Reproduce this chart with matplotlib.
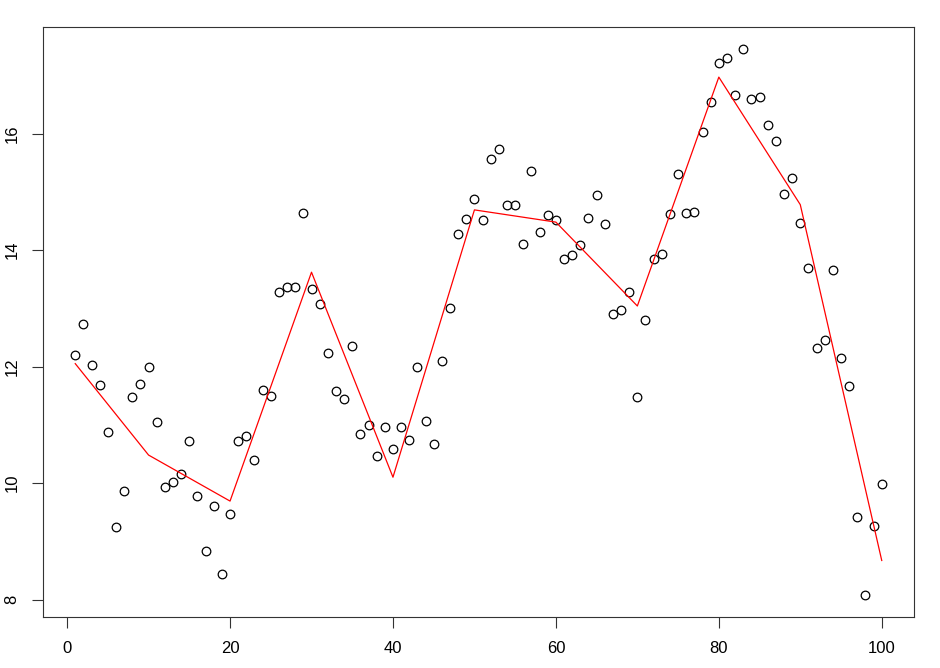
#Scatter with piecewise linear fit (R base graphics look)

import matplotlib
matplotlib.use('Agg')
import matplotlib.pyplot as plt
import numpy as np

#Data
x = np.arange(1, 101)
y = [12.20, 12.73, 12.03, 11.69, 10.88, 9.25, 9.87, 11.47, 11.70, 11.99,
     11.05, 9.94, 10.01, 10.16, 10.73, 9.77, 8.84, 9.60, 8.44, 9.47,
     10.72, 10.81, 10.40, 11.59, 11.49, 13.28, 13.36, 13.37, 14.63, 13.33,
     13.07, 12.23, 11.58, 11.44, 12.36, 10.84, 11.00, 10.47, 10.96, 10.58,
     10.97, 10.74, 12.00, 11.07, 10.67, 12.10, 13.00, 14.27, 14.54, 14.87,
     14.51, 15.56, 15.74, 14.77, 14.77, 14.10, 15.35, 14.31, 14.60, 14.51,
     13.85, 13.92, 14.08, 14.55, 14.94, 14.45, 12.90, 12.97, 13.28, 11.48,
     12.80, 13.85, 13.93, 14.62, 15.30, 14.63, 14.66, 16.02, 16.54, 17.21,
     17.29, 16.67, 17.46, 16.59, 16.62, 16.15, 15.87, 14.97, 15.23, 14.46,
     13.69, 12.31, 12.45, 13.66, 12.15, 11.67, 9.41, 8.07, 9.27, 9.98]

#Fitted line knots
knot_x = [1, 10, 20, 30, 40, 50, 60, 70, 80, 90, 100]
knot_y = [12.05, 10.48, 9.69, 13.62, 10.10, 14.69, 14.48, 13.04, 16.97, 14.78, 8.67]

xticks = [0, 20, 40, 60, 80, 100]
yticks = [8, 10, 12, 14, 16]

plt.rcParams['font.family'] = ['Liberation Sans', 'DejaVu Sans']

fig = plt.figure(figsize=(9.4, 6.68), dpi=100)
ax = fig.add_axes([43/940., 1-617.3/668., (914-43)/940., (617.3-26.7)/668.])

# R style: 4% padding on both axes
xr = x.max() - x.min()
ax.set_xlim(x.min() - 0.04*xr, x.max() + 0.04*xr)
yr = max(y) - min(y)
ax.set_ylim(min(y) - 0.04*yr, max(y) + 0.04*yr)

ax.plot(x, y, linestyle='none', marker='o', markersize=6.2,
        markerfacecolor='none', markeredgecolor='black', markeredgewidth=0.9)
ax.plot(knot_x, knot_y, color='red', lw=0.9)

for s in ax.spines.values():
    s.set_color('#333333')
    s.set_linewidth(0.8)

ax.set_xticks(xticks)
ax.set_yticks(yticks)
ax.tick_params(axis='both', direction='out', length=8, width=0.8,
               color='#333333', labelsize=12, pad=9)
plt.setp(ax.get_yticklabels(), rotation=90, va='center')

plt.savefig('out.png', dpi=100)
